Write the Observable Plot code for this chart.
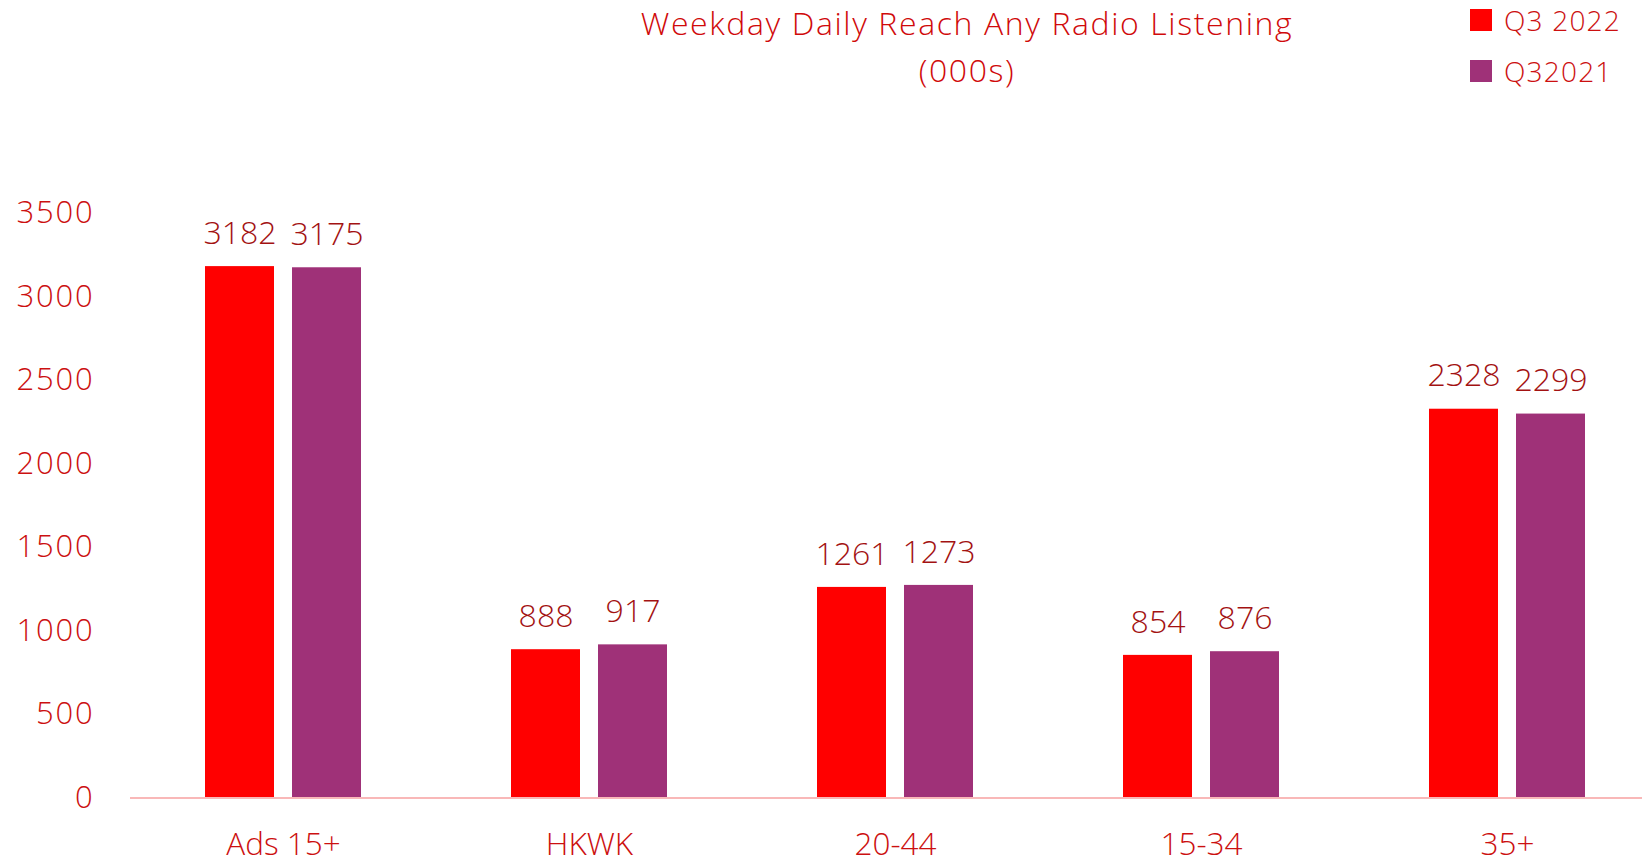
<!DOCTYPE html>
<html>
<head>
<meta charset="utf-8">
<script src="https://cdn.jsdelivr.net/npm/d3@7"></script>
<script src="https://cdn.jsdelivr.net/npm/@observablehq/plot@0.6"></script>
<style>
  html, body { margin: 0; padding: 0; background: #fff; overflow: hidden; }
  #wrap { position: relative; width: 1642px; height: 865px; font-family: "Open Sans", sans-serif; font-weight: 300; }
  #title { position: absolute; left: 567px; width: 800px; top: -1px; text-align: center; color: #d00a0a; font-size: 32px; line-height: 47px; letter-spacing: 1.6px; }
  .leg { position: absolute; left: 1470px; display: flex; align-items: center; color: #cc1010; font-size: 28px; letter-spacing: 1.2px; }
  .sw { width: 22px; height: 22px; margin-right: 12px; }
  #chart { position: absolute; left: 0; top: 0; }
  #chart g[aria-label="y-axis tick label"] text { letter-spacing: 1.8px; }
</style>
</head>
<body>
<div id="wrap">
  <div id="chart"></div>
  <div id="title"></div>
  <div id="legend"></div>
</div>
<script>
const titleLines = ["Weekday Daily Reach Any Radio Listening", "(000s)"];
const categories = ["Ads 15+", "HKWK", "20-44", "15-34", "35+"];
const seriesNames = ["Q3 2022", "Q32021"];
const seriesColors = ["#ff0000", "#9f3178"];
const q3_2022 = [3182, 888, 1261, 854, 2328];
const q3_2021 = [3175, 917, 1273, 876, 2299];
const yTicks = [0, 500, 1000, 1500, 2000, 2500, 3000, 3500];

const data = [];
categories.forEach((c, i) => {
  data.push({cat: c, series: seriesNames[0], value: q3_2022[i]});
  data.push({cat: c, series: seriesNames[1], value: q3_2021[i]});
});

document.getElementById("title").innerHTML = titleLines.join("<br>");
const legend = document.getElementById("legend");
seriesNames.forEach((s, i) => {
  const d = document.createElement("div");
  d.className = "leg";
  d.style.top = (i === 0 ? 1 : 52) + "px";
  d.innerHTML = `<div class="sw" style="background:${seriesColors[i]}"></div><span>${s}</span>`;
  legend.appendChild(d);
});

const chart = Plot.plot({
  width: 1642,
  height: 865,
  marginLeft: 130,
  marginRight: 0,
  marginTop: 213,
  marginBottom: 67.5,
  style: {fontFamily: "Open Sans, sans-serif", fontWeight: 300, background: "transparent"},
  fx: {domain: categories, range: [130, 1660], paddingInner: 0, paddingOuter: 0},
  x: {domain: seriesNames, paddingInner: 0.2069, paddingOuter: 0.862, axis: null},
  y: {domain: [0, 3500]},
  color: {domain: seriesNames, range: seriesColors},
  marks: [
    Plot.barY(data, {fx: "cat", x: "series", y: "value", fill: "series"}),
    Plot.ruleY([0], {stroke: "#f9b8b8", strokeWidth: 2}),
    Plot.text(data, {fx: "cat", x: "series", y: "value", text: d => String(d.value), dy: -33, fill: "#a31212", fontSize: 32}),
    Plot.axisY({ticks: yTicks, tickSize: 0, tickPadding: 36, fontSize: 31, color: "#cc1010", label: null, tickFormat: d => String(d)}),
    Plot.axisFx({anchor: "bottom", tickSize: 0, tickPadding: 35, fontSize: 31.5, color: "#cc1010", label: null})
  ]
});
document.getElementById("chart").appendChild(chart);
</script>
</body>
</html>
